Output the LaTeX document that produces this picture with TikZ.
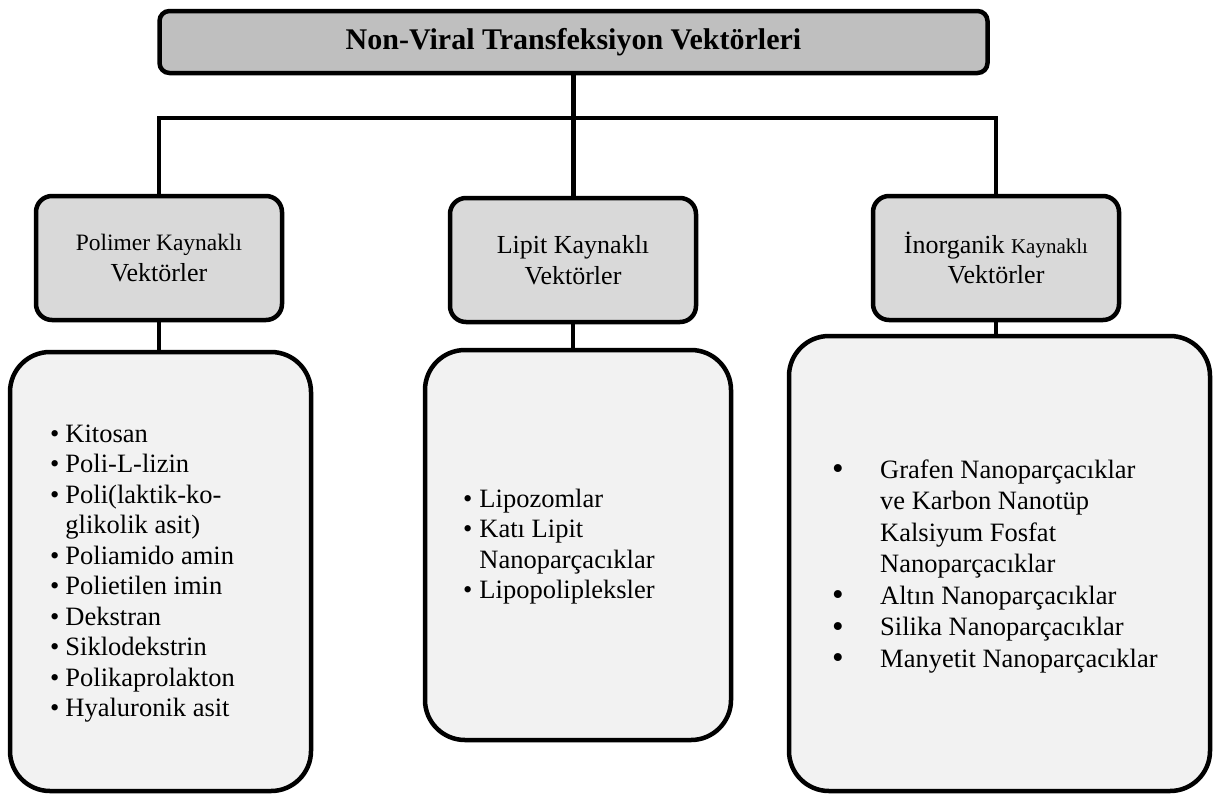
\documentclass[tikz,border=0pt]{standalone}
\usepackage{fontspec}
\setmainfont{Liberation Serif}
\usepackage{tikz}
\usetikzlibrary{positioning,calc}
\definecolor{titlegray}{RGB}{191,191,191}
\definecolor{headgray}{RGB}{217,217,217}
\definecolor{listgray}{RGB}{242,242,242}
\tikzstyle{top}=[draw, fill=titlegray, line width=4.5pt, rounded corners=10pt,
    minimum width=828pt, minimum height=62pt, inner sep=0pt]
\tikzstyle{head}=[draw, fill=headgray, line width=4.5pt, rounded corners=16pt,
    minimum width=246pt, minimum height=124pt, inner sep=0pt, align=center,
    font=\fontsize{26}{30.5}\selectfont]
\tikzstyle{box}=[draw, fill=listgray, line width=4.5pt, rounded corners=40pt,
    inner sep=0pt]
\tikzstyle{items}=[anchor=base west, inner sep=0pt]
\tikzstyle{wire}=[line width=4.5pt]
\def\listfont{\fontsize{26.5}{30.5}\selectfont}
\def\bigdot{\raisebox{-1.5pt}{\scalebox{1.25}{\textbullet}}}

\begin{document}
\begin{tikzpicture}[x=1pt,y=-1pt]
    \useasboundingbox (0,0) rectangle (1220,798);
    \node (title) [top] at (573.5,42)
        {\fontsize{30}{34}\selectfont\bfseries Non-Viral Transfeksiyon Vektörleri};
    \node (polyhead) [head] at (159,258)
        {{\fontsize{23.5}{30}\selectfont Polimer Kaynaklı}\\Vektörler};
    \node (lipidhead) [head] at (573,260) {Lipit Kaynaklı\\Vektörler};
    \node (inorghead) [head] at (996,258)
        {İnorganik {\fontsize{21}{30}\selectfont Kaynaklı}\\Vektörler};
    \node (polybox) [box, minimum width=301pt, minimum height=439pt] at (160.5,571.5) {};
    \node (lipidbox) [box, minimum width=306pt, minimum height=390pt] at (578,545) {};
    \node (inorgbox) [box, minimum width=421pt, minimum height=455pt] at (999.5,563.5) {};
    \coordinate (bus) at (158,118);
    % bus and connectors
    \draw [wire] (polyhead.north) -- (polyhead.north |- bus)
        -- (inorghead.north |- bus) -- (inorghead.north);
    \draw [wire] (title.south) -- (title.south |- lipidhead.north);
    \draw [wire] (polyhead.south) -- (polyhead.south |- polybox.north);
    \draw [wire] (lipidhead.south) -- (lipidhead.south |- lipidbox.north);
    \draw [wire] (inorghead.south) -- (inorghead.south |- inorgbox.north);
    % lists
    \node (polytext) [items] at (50,442) {\listfont
        \begin{tabular}[t]{@{}l@{\hspace{6pt}}l@{}}
        \textbullet & Kitosan\\
        \textbullet & Poli-L-lizin\\
        \textbullet & Poli(laktik-ko-\\
                    & glikolik asit)\\
        \textbullet & Poliamido amin\\
        \textbullet & Polietilen imin\\
        \textbullet & Dekstran\\
        \textbullet & Siklodekstrin\\
        \textbullet & Polikaprolakton\\
        \textbullet & Hyaluronik asit
        \end{tabular}};
    \node (lipidtext) [items] at (463,507) {\listfont
        \begin{tabular}[t]{@{}l@{\hspace{7pt}}l@{}}
        \textbullet & Lipozomlar\\
        \textbullet & Katı Lipit\\
                    & Nanoparçacıklar\\
        \textbullet & Lipopolipleksler
        \end{tabular}};
    \node (inorgtext) [items] at (832,478) {\fontsize{26.5}{31.5}\selectfont
        \begin{tabular}[t]{@{}p{48pt}@{}l@{}}
        \bigdot & Grafen Nanoparçacıklar\\
                & ve Karbon Nanotüp\\
                & Kalsiyum Fosfat\\
                & Nanoparçacıklar\\
        \bigdot & Altın Nanoparçacıklar\\
        \bigdot & Silika Nanoparçacıklar\\
        \bigdot & Manyetit Nanoparçacıklar
        \end{tabular}};
\end{tikzpicture}
\end{document}
